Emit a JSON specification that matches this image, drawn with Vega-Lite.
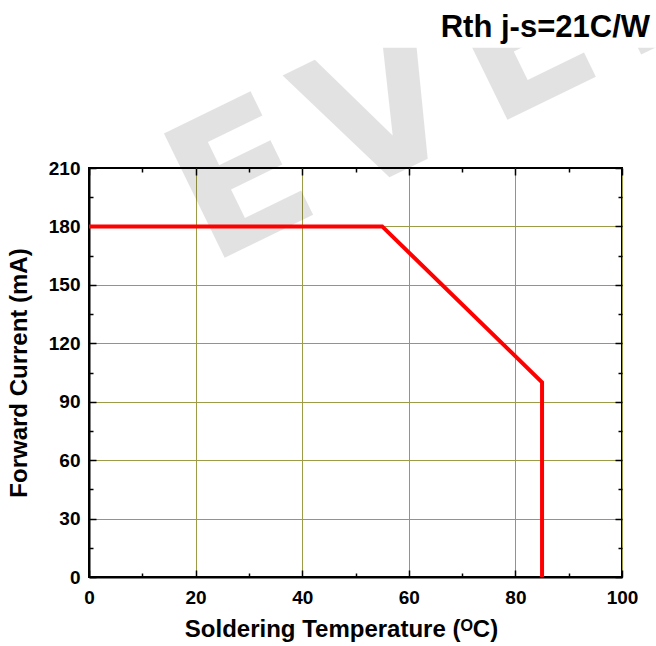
{
  "$schema": "https://vega.github.io/schema/vega-lite/v6.json",
  "autosize": {"type": "none"},
  "width": 533,
  "height": 409,
  "padding": {"left": 89, "top": 168, "right": 34, "bottom": 69},
  "background": "white",
  "config": {
    "font": "Liberation Sans",
    "view": {"stroke": "black", "strokeWidth": 2}
  },
  "title": {
    "text": "Rth j-s=21C/W",
    "anchor": "end",
    "frame": "group",
    "fontSize": 31,
    "fontWeight": "bold",
    "color": "black",
    "font": "Liberation Sans",
    "dx": 28,
    "offset": -246
  },
  "datasets": {
    "curve": [
      {"i": 0, "temp": 0, "current": 180},
      {"i": 1, "temp": 55, "current": 180},
      {"i": 2, "temp": 85, "current": 100},
      {"i": 3, "temp": 85, "current": 0}
    ],
    "watermark": [
      {"temp": 22.5, "current": 160, "label": "E\u200aV\u200aE\u200aR"}
    ],
    "cover": [
      {"x1": -30, "x2": 130, "y1": 271.8, "y2": 400}
    ]
  },
  "resolve": {"axis": {"x": "independent", "y": "independent"}},
  "layer": [
    {
      "data": {"name": "watermark"},
      "mark": {"type": "text", "fontSize": 190, "fontWeight": "bold", "font": "DejaVu Sans", "color": "#000000", "opacity": 0.11, "angle": -26, "clip": false, "align": "left", "baseline": "alphabetic"},
      "encoding": {
        "x": {"field": "temp", "type": "quantitative", "scale": {"domain": [0, 100], "nice": false}, "axis": null},
        "y": {"field": "current", "type": "quantitative", "scale": {"domain": [0, 210], "nice": false}, "axis": null},
        "text": {"field": "label"}
      }
    },
    {
      "data": {"name": "cover"},
      "mark": {"type": "rect", "color": "white", "clip": false},
      "encoding": {
        "x": {"field": "x1", "type": "quantitative", "axis": null},
        "x2": {"field": "x2"},
        "y": {"field": "y1", "type": "quantitative", "axis": null},
        "y2": {"field": "y2"}
      }
    },
    {
      "data": {"name": "curve"},
      "mark": {"type": "line", "opacity": 0},
      "encoding": {
        "x": {
          "field": "temp", "type": "quantitative",
          "axis": {
            "orient": "top", "title": null, "labels": false, "domain": false, "grid": false,
            "values": [0, 10, 20, 30, 40, 50, 60, 70, 80, 90, 100],
            "tickColor": "black", "tickWidth": 1.5,
            "tickSize": {"condition": {"test": "datum.value % 20 === 0", "value": -7}, "value": -4}
          }
        },
        "y": {
          "field": "current", "type": "quantitative",
          "axis": {
            "orient": "right", "title": null, "labels": false, "domain": false, "grid": false,
            "values": [0, 15, 30, 45, 60, 75, 90, 105, 120, 135, 150, 165, 180, 195, 210],
            "tickColor": "black", "tickWidth": 1.5,
            "tickSize": {"condition": {"test": "datum.value % 30 === 0", "value": -7}, "value": -4}
          }
        }
      }
    },
    {
      "data": {"name": "curve"},
      "mark": {"type": "line", "color": "#ff0000", "strokeWidth": 4},
      "encoding": {
        "x": {
          "field": "temp", "type": "quantitative",
          "axis": {
            "title": "Soldering Temperature (ᴼC)",
            "values": [0, 10, 20, 30, 40, 50, 60, 70, 80, 90, 100],
            "labelExpr": "datum.value % 20 === 0 ? datum.label : ''",
            "labelFlush": false,
            "labelFont": "Liberation Sans", "labelFontSize": 19, "labelFontWeight": "bold", "labelColor": "black",
            "labelPadding": 18,
            "titleFont": "Liberation Sans", "titleFontSize": 24, "titleFontWeight": "bold", "titleColor": "black",
            "titlePadding": 10,
            "titleX": 252,
            "domainColor": "black", "domainWidth": 2,
            "tickColor": "black", "tickWidth": 1.5,
            "tickSize": {"condition": {"test": "datum.value % 20 === 0", "value": -7}, "value": -4},
            "grid": true,
            "gridColor": "#9c9c48",
            "gridWidth": 1,
            "gridOpacity": {"condition": {"test": "datum.value % 20 === 0", "value": 1}, "value": 0}
          }
        },
        "y": {
          "field": "current", "type": "quantitative",
          "axis": {
            "title": "Forward Current (mA)",
            "values": [0, 15, 30, 45, 60, 75, 90, 105, 120, 135, 150, 165, 180, 195, 210],
            "labelExpr": "datum.value % 30 === 0 ? datum.label : ''",
            "labelFlush": false,
            "labelFont": "Liberation Sans", "labelFontSize": 19, "labelFontWeight": "bold", "labelColor": "black",
            "labelPadding": 16,
            "titleFont": "Liberation Sans", "titleFontSize": 24, "titleFontWeight": "bold", "titleColor": "black",
            "titlePadding": 17,
            "domainColor": "black", "domainWidth": 2,
            "tickColor": "black", "tickWidth": 1.5,
            "tickSize": {"condition": {"test": "datum.value % 30 === 0", "value": -7}, "value": -4},
            "grid": true,
            "gridColor": "#9c9c48",
            "gridWidth": 1,
            "gridOpacity": {"condition": {"test": "datum.value % 30 === 0 && datum.value > 0 && datum.value < 210", "value": 1}, "value": 0}
          }
        },
        "order": {"field": "i", "type": "quantitative"}
      }
    }
  ]
}
